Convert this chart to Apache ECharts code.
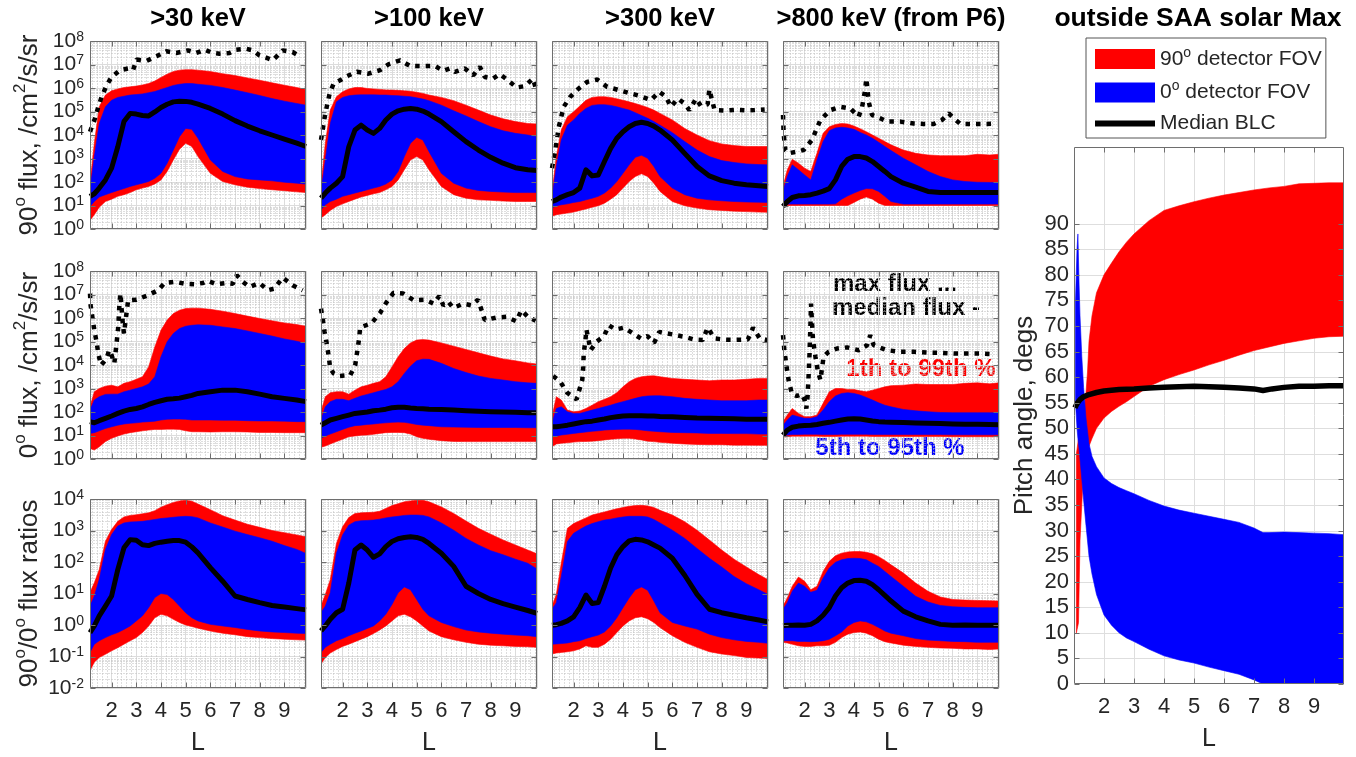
<!DOCTYPE html>
<html><head><meta charset="utf-8">
<script src="https://cdn.jsdelivr.net/npm/echarts@6/dist/echarts.min.js"></script>
<style>html,body{margin:0;padding:0;background:#fff}#c{width:1356px;height:757px}</style>
</head><body><div id="c"></div>
<script>
// ---------- DATA (flux / ratio values are given as log10 of the value) ----------
const L_GRID = [1.125, 1.3, 1.5, 1.75, 2, 2.25, 2.5, 2.75, 3, 3.25, 3.5, 3.75, 4, 4.25, 4.5, 4.75, 5, 5.25, 5.5, 6, 6.5, 7, 7.5, 8, 8.5, 9, 9.5, 9.875];

// Row 1: 90 deg flux
const r1c1_p99 = [1.95, 3.65, 5.2, 5.7, 5.88, 5.96, 6.02, 6.05, 6.08, 6.13, 6.19, 6.3, 6.45, 6.59, 6.70, 6.76, 6.78, 6.78, 6.76, 6.70, 6.61, 6.53, 6.43, 6.33, 6.22, 6.12, 6.02, 5.94];
const r1c1_p95 = [1.67, 3.08, 4.49, 5.2, 5.48, 5.6, 5.65, 5.7, 5.72, 5.75, 5.8, 5.85, 5.94, 6.02, 6.11, 6.16, 6.19, 6.19, 6.16, 6.11, 6.02, 5.91, 5.8, 5.68, 5.55, 5.44, 5.34, 5.27];
const r1c1_med = [1.39, 1.5, 1.74, 2.09, 2.59, 3.5, 4.57, 4.92, 4.89, 4.83, 4.81, 4.98, 5.17, 5.31, 5.41, 5.44, 5.43, 5.39, 5.31, 5.13, 4.89, 4.61, 4.38, 4.18, 4.0, 3.82, 3.65, 3.51];
const r1c1_p5 = [0.96, 1.17, 1.36, 1.46, 1.55, 1.64, 1.72, 1.81, 1.88, 1.95, 2.02, 2.16, 2.37, 2.8, 3.36, 3.93, 4.28, 4.24, 3.86, 2.94, 2.45, 2.23, 2.13, 2.09, 2.05, 1.99, 1.95, 1.91];
const r1c1_p1 = [0.37, 0.61, 0.93, 1.17, 1.27, 1.39, 1.46, 1.55, 1.67, 1.74, 1.81, 1.92, 2.09, 2.45, 2.94, 3.39, 3.65, 3.51, 3.08, 2.37, 2.02, 1.88, 1.78, 1.72, 1.67, 1.63, 1.58, 1.55];
const r1c1_maxL = [1.125, 1.33, 1.46, 1.6, 1.8, 2.0, 2.34, 2.67, 2.87, 3.01, 3.41, 3.82, 4.22, 4.62, 5.09, 5.43, 5.77, 6.1, 6.37, 6.78, 7.05, 7.45, 7.72, 7.99, 8.26, 8.53, 8.93, 9.33, 9.67];
const r1c1_maxV = [4.14, 4.71, 5.2, 5.63, 6.12, 6.47, 6.76, 6.83, 6.76, 7.21, 7.15, 7.35, 7.56, 7.49, 7.6, 7.49, 7.63, 7.49, 7.46, 7.49, 7.63, 7.67, 7.6, 7.39, 7.29, 7.18, 7.6, 7.53, 7.32];

const r1c2_p99 = [1.85, 3.65, 5.06, 5.63, 5.84, 5.96, 6.02, 6.02, 5.98, 5.96, 5.94, 5.92, 5.91, 5.9, 5.88, 5.86, 5.82, 5.77, 5.7, 5.6, 5.46, 5.27, 5.06, 4.85, 4.69, 4.57, 4.49, 4.47];
const r1c2_p95 = [1.6, 2.94, 4.49, 5.41, 5.6, 5.67, 5.7, 5.71, 5.71, 5.71, 5.7, 5.7, 5.68, 5.67, 5.65, 5.63, 5.58, 5.53, 5.46, 5.27, 5.03, 4.81, 4.57, 4.35, 4.18, 4.07, 4.0, 3.93];
const r1c2_med = [1.31, 1.53, 1.74, 1.95, 2.23, 3.5, 4.21, 4.42, 4.21, 4.07, 4.28, 4.64, 4.89, 5.03, 5.1, 5.13, 5.1, 5.02, 4.89, 4.57, 4.14, 3.72, 3.36, 3.05, 2.8, 2.61, 2.52, 2.49];
const r1c2_p5 = [0.82, 1.03, 1.17, 1.27, 1.39, 1.46, 1.53, 1.6, 1.67, 1.74, 1.81, 1.91, 2.09, 2.45, 3.08, 3.65, 3.9, 3.79, 3.29, 2.37, 1.95, 1.74, 1.64, 1.6, 1.57, 1.55, 1.55, 1.55];
const r1c2_p1 = [0.47, 0.61, 0.79, 0.96, 1.07, 1.17, 1.27, 1.36, 1.43, 1.5, 1.55, 1.67, 1.81, 2.09, 2.52, 2.94, 3.08, 2.94, 2.52, 1.81, 1.46, 1.31, 1.24, 1.22, 1.19, 1.17, 1.17, 1.17];
const r1c2_maxL = [1.125, 1.3, 1.475, 1.64, 1.9, 2.17, 2.58, 3.05, 3.52, 3.86, 4.33, 4.73, 5.27, 5.74, 6.08, 6.35, 6.55, 6.95, 7.29, 7.56, 7.76, 8.1, 8.37, 8.7, 9.04, 9.38, 9.71, 9.85];
const r1c2_maxV = [3.79, 4.92, 5.77, 6.19, 6.33, 6.5, 6.69, 6.61, 6.76, 7.01, 7.18, 6.94, 6.94, 6.94, 6.73, 6.83, 6.69, 6.83, 6.54, 6.9, 6.47, 6.4, 6.59, 6.33, 6.02, 6.08, 6.4, 5.91];

const r1c3_p99 = [1.53, 3.08, 4.21, 4.78, 4.99, 5.23, 5.48, 5.6, 5.63, 5.63, 5.6, 5.54, 5.48, 5.41, 5.34, 5.26, 5.17, 5.06, 4.92, 4.64, 4.28, 4.0, 3.76, 3.62, 3.55, 3.51, 3.51, 3.51];
const r1c3_p95 = [1.31, 2.66, 3.79, 4.42, 4.64, 4.92, 5.13, 5.26, 5.29, 5.29, 5.26, 5.2, 5.13, 5.06, 4.95, 4.83, 4.71, 4.57, 4.42, 4.1, 3.72, 3.36, 3.08, 2.91, 2.83, 2.77, 2.74, 2.73];
const r1c3_med = [1.17, 1.24, 1.36, 1.46, 1.55, 1.74, 2.52, 2.26, 2.3, 2.87, 3.43, 3.86, 4.14, 4.35, 4.49, 4.54, 4.49, 4.38, 4.21, 3.79, 3.22, 2.66, 2.26, 2.06, 1.95, 1.88, 1.84, 1.81];
const r1c3_p5 = [0.89, 0.99, 1.03, 1.07, 1.13, 1.17, 1.24, 1.31, 1.39, 1.53, 1.74, 2.02, 2.37, 2.73, 3.05, 3.14, 3.01, 2.66, 2.23, 1.74, 1.46, 1.31, 1.24, 1.2, 1.17, 1.15, 1.14, 1.13];
const r1c3_p1 = [0.54, 0.61, 0.64, 0.68, 0.72, 0.79, 0.85, 0.93, 0.99, 1.1, 1.27, 1.46, 1.74, 2.02, 2.23, 2.35, 2.23, 1.95, 1.6, 1.17, 0.99, 0.89, 0.82, 0.79, 0.76, 0.74, 0.72, 0.71];
const r1c3_maxL = [1.125, 1.26, 1.4, 1.6, 1.87, 2.21, 2.55, 2.96, 3.36, 3.84, 4.31, 4.72, 5.13, 5.47, 5.74, 5.94, 6.22, 6.49, 6.69, 6.96, 7.16, 7.43, 7.5, 7.71, 8.11, 8.52, 8.93, 9.33, 9.74];
const r1c3_maxV = [2.59, 3.36, 4.35, 5.2, 5.63, 5.98, 6.26, 6.36, 6.05, 5.91, 5.77, 5.65, 5.48, 5.84, 5.63, 5.2, 5.55, 5.34, 5.06, 5.55, 5.23, 5.31, 5.94, 5.06, 5.04, 5.07, 5.05, 5.06, 5.09];

const r1c4_p99 = [1.81, 2.52, 2.97, 2.8, 2.59, 2.45, 3.22, 4.07, 4.35, 4.45, 4.49, 4.47, 4.38, 4.27, 4.14, 4.0, 3.86, 3.72, 3.58, 3.36, 3.22, 3.15, 3.12, 3.12, 3.12, 3.18, 3.15, 3.18];
const r1c4_p95 = [1.6, 2.23, 2.73, 2.52, 2.3, 2.09, 2.94, 3.72, 4.18, 4.3, 4.33, 4.3, 4.24, 4.11, 4.0, 3.86, 3.69, 3.51, 3.34, 3.01, 2.73, 2.45, 2.23, 2.09, 2.02, 1.99, 1.98, 1.98];
const r1c4_med = [0.96, 1.17, 1.34, 1.41, 1.43, 1.46, 1.53, 1.61, 1.72, 2.09, 2.66, 2.97, 3.08, 3.08, 3.02, 2.87, 2.66, 2.45, 2.23, 1.95, 1.78, 1.6, 1.55, 1.55, 1.55, 1.55, 1.55, 1.55];
const r1c4_p5 = [1.06, 1.06, 1.06, 1.06, 1.06, 1.06, 1.06, 1.06, 1.06, 1.07, 1.27, 1.41, 1.53, 1.64, 1.72, 1.71, 1.6, 1.39, 1.17, 1.06, 1.06, 1.06, 1.06, 1.06, 1.06, 1.06, 1.06, 1.06];
const r1c4_p1 = [1.0, 1.0, 1.0, 1.0, 1.0, 1.0, 1.0, 1.0, 1.0, 1.0, 1.0, 1.0, 1.13, 1.27, 1.36, 1.27, 1.1, 1.0, 1.0, 1.0, 1.0, 1.0, 1.0, 1.0, 1.0, 1.0, 1.0, 1.0];
const r1c4_maxL = [1.125, 1.15, 1.22, 1.35, 1.69, 1.96, 2.3, 2.64, 3.04, 3.45, 3.85, 4.19, 4.33, 4.45, 4.5, 4.55, 4.6, 4.73, 5.07, 5.34, 5.88, 6.42, 6.82, 7.23, 7.57, 7.84, 8.04, 8.31, 8.71, 9.38, 9.79];
const r1c4_maxV = [4.85, 4.07, 3.36, 3.22, 3.29, 3.36, 3.79, 4.64, 5.06, 5.2, 5.13, 4.78, 5.2, 5.9, 6.4, 5.9, 5.4, 4.85, 4.71, 4.57, 4.57, 4.49, 4.47, 4.47, 4.64, 4.92, 4.71, 4.47, 4.47, 4.47, 4.49];

// Row 2: 0 deg flux
const r2c1_p99 = [2.22, 2.86, 3.0, 3.1, 3.14, 3.07, 3.22, 3.29, 3.39, 3.5, 3.92, 4.77, 5.48, 5.91, 6.19, 6.33, 6.4, 6.42, 6.42, 6.37, 6.29, 6.19, 6.08, 5.98, 5.88, 5.79, 5.72, 5.65];
const r2c1_p95 = [2.08, 2.51, 2.65, 2.75, 2.76, 2.76, 2.86, 2.93, 3.0, 3.07, 3.19, 3.5, 4.35, 4.99, 5.34, 5.55, 5.65, 5.69, 5.71, 5.69, 5.62, 5.55, 5.45, 5.34, 5.23, 5.11, 5.01, 4.92];
const r2c1_med = [1.59, 1.54, 1.63, 1.73, 1.83, 1.94, 2.04, 2.11, 2.15, 2.22, 2.32, 2.41, 2.48, 2.54, 2.56, 2.59, 2.65, 2.71, 2.79, 2.86, 2.93, 2.93, 2.86, 2.76, 2.65, 2.58, 2.51, 2.44];
const r2c1_p5 = [1.09, 1.12, 1.2, 1.3, 1.37, 1.44, 1.49, 1.52, 1.54, 1.57, 1.59, 1.61, 1.66, 1.69, 1.7, 1.7, 1.69, 1.66, 1.66, 1.66, 1.65, 1.65, 1.63, 1.62, 1.62, 1.61, 1.59, 1.59];
const r2c1_p1 = [0.45, 0.38, 0.52, 0.74, 0.88, 0.98, 1.06, 1.12, 1.16, 1.2, 1.23, 1.26, 1.26, 1.27, 1.27, 1.26, 1.2, 1.16, 1.16, 1.15, 1.16, 1.16, 1.15, 1.13, 1.13, 1.12, 1.12, 1.12];
const r2c1_maxL = [1.125, 1.15, 1.23, 1.3, 1.39, 1.46, 1.57, 1.69, 1.8, 1.9, 2.0, 2.11, 2.2, 2.27, 2.31, 2.36, 2.44, 2.5, 2.67, 3.01, 3.48, 3.88, 4.15, 4.56, 4.96, 5.36, 5.7, 5.9, 6.24, 6.64, 6.91, 7.07, 7.32, 7.59, 7.99, 8.33, 8.59, 8.93, 9.33, 9.74];
const r2c1_maxV = [7.04, 6.54, 5.98, 5.48, 4.99, 4.49, 3.99, 4.14, 4.28, 4.63, 4.42, 4.07, 4.92, 5.62, 6.47, 7.04, 5.91, 5.34, 6.76, 6.78, 6.97, 7.18, 7.49, 7.54, 7.46, 7.44, 7.49, 7.58, 7.44, 7.49, 7.46, 7.82, 7.54, 7.32, 7.49, 7.18, 7.25, 7.72, 7.39, 7.18];

const r2c2_p99 = [2.01, 2.65, 2.82, 2.86, 2.86, 2.76, 2.93, 3.07, 3.14, 3.22, 3.29, 3.5, 3.92, 4.35, 4.7, 4.94, 5.06, 5.08, 5.06, 4.94, 4.8, 4.66, 4.52, 4.38, 4.26, 4.18, 4.09, 4.04];
const r2c2_p95 = [1.66, 2.22, 2.44, 2.54, 2.54, 2.48, 2.58, 2.68, 2.75, 2.82, 2.89, 2.96, 3.07, 3.29, 3.64, 3.95, 4.18, 4.25, 4.24, 4.07, 3.85, 3.68, 3.53, 3.43, 3.36, 3.29, 3.24, 3.22];
const r2c2_med = [1.44, 1.54, 1.66, 1.73, 1.8, 1.87, 1.94, 1.97, 2.0, 2.05, 2.08, 2.12, 2.18, 2.2, 2.2, 2.17, 2.15, 2.14, 2.12, 2.11, 2.08, 2.05, 2.03, 2.01, 2.0, 1.99, 1.97, 1.97];
const r2c2_p5 = [0.88, 0.98, 1.06, 1.16, 1.26, 1.35, 1.42, 1.44, 1.47, 1.49, 1.52, 1.54, 1.56, 1.57, 1.56, 1.52, 1.47, 1.44, 1.42, 1.37, 1.36, 1.35, 1.34, 1.34, 1.34, 1.34, 1.33, 1.33];
const r2c2_p1 = [0.5, 0.55, 0.64, 0.74, 0.84, 0.95, 0.98, 1.01, 1.02, 1.05, 1.09, 1.12, 1.13, 1.13, 1.12, 1.06, 0.95, 0.88, 0.84, 0.78, 0.75, 0.74, 0.74, 0.74, 0.74, 0.74, 0.74, 0.74];
const r2c2_maxL = [1.125, 1.2, 1.27, 1.37, 1.44, 1.5, 1.64, 1.88, 2.31, 2.51, 2.6, 2.67, 2.71, 2.85, 3.18, 3.52, 3.76, 4.06, 4.46, 4.87, 5.34, 5.68, 5.92, 6.08, 6.28, 6.48, 6.89, 7.22, 7.49, 7.63, 7.76, 8.23, 8.63, 9.04, 9.24, 9.51, 9.82];
const r2c2_maxV = [6.4, 5.91, 5.41, 4.84, 4.35, 3.85, 3.64, 3.53, 3.57, 3.99, 4.63, 5.13, 5.59, 5.65, 5.79, 6.22, 6.64, 7.07, 7.04, 6.76, 6.78, 6.61, 6.93, 6.54, 6.69, 6.43, 6.61, 6.54, 6.78, 6.33, 5.91, 6.02, 6.05, 5.86, 6.33, 6.05, 5.88];

const r2c3_p99 = [1.8, 2.65, 2.51, 2.08, 2.01, 2.04, 2.15, 2.29, 2.44, 2.54, 2.65, 2.82, 3.07, 3.29, 3.43, 3.5, 3.53, 3.54, 3.5, 3.43, 3.39, 3.36, 3.33, 3.36, 3.36, 3.39, 3.43, 3.43];
const r2c3_p95 = [1.52, 2.15, 2.22, 2.01, 1.94, 1.94, 2.01, 2.08, 2.15, 2.22, 2.29, 2.37, 2.44, 2.51, 2.58, 2.65, 2.68, 2.69, 2.69, 2.65, 2.58, 2.54, 2.51, 2.48, 2.48, 2.48, 2.51, 2.51];
const r2c3_med = [1.37, 1.37, 1.4, 1.44, 1.49, 1.54, 1.59, 1.61, 1.66, 1.7, 1.76, 1.8, 1.83, 1.84, 1.84, 1.84, 1.83, 1.83, 1.81, 1.8, 1.77, 1.74, 1.73, 1.72, 1.71, 1.69, 1.69, 1.69];
const r2c3_p5 = [0.95, 0.98, 1.02, 1.05, 1.09, 1.12, 1.15, 1.18, 1.2, 1.23, 1.25, 1.26, 1.27, 1.27, 1.26, 1.23, 1.2, 1.18, 1.16, 1.13, 1.12, 1.11, 1.09, 1.09, 1.08, 1.08, 1.06, 1.06];
const r2c3_p1 = [0.52, 0.64, 0.67, 0.69, 0.72, 0.74, 0.75, 0.76, 0.78, 0.81, 0.84, 0.86, 0.88, 0.88, 0.85, 0.81, 0.76, 0.74, 0.71, 0.67, 0.64, 0.62, 0.61, 0.61, 0.59, 0.59, 0.58, 0.58];
const r2c3_maxL = [1.17, 1.46, 1.74, 2.12, 2.21, 2.35, 2.39, 2.41, 2.48, 2.52, 2.69, 2.93, 3.23, 3.43, 3.7, 4.04, 4.31, 4.72, 4.99, 5.26, 5.47, 5.81, 6.15, 6.49, 6.89, 7.23, 7.43, 7.71, 8.11, 8.59, 9.06, 9.27, 9.54, 9.85];
const r2c3_maxV = [3.53, 3.29, 2.82, 2.54, 2.86, 3.36, 3.92, 4.49, 5.06, 5.51, 4.63, 4.99, 5.23, 5.69, 5.51, 5.59, 5.41, 5.13, 5.23, 4.94, 5.41, 5.34, 5.27, 5.2, 5.08, 5.06, 5.59, 5.13, 5.08, 5.07, 5.09, 5.59, 5.13, 5.06];

const r2c4_p99 = [1.59, 1.87, 2.15, 1.94, 1.8, 1.8, 1.87, 2.37, 2.86, 3.0, 3.0, 2.96, 2.96, 2.9, 2.86, 2.93, 3.0, 3.07, 3.12, 3.14, 3.19, 3.17, 3.17, 3.17, 3.22, 3.24, 3.2, 3.24];
const r2c4_p95 = [1.44, 1.66, 1.87, 1.8, 1.73, 1.73, 1.8, 2.08, 2.44, 2.68, 2.79, 2.82, 2.79, 2.72, 2.62, 2.51, 2.39, 2.29, 2.22, 2.11, 2.05, 2.01, 1.98, 1.97, 1.97, 1.97, 1.97, 1.97];
const r2c4_med = [1.02, 1.23, 1.35, 1.4, 1.43, 1.44, 1.47, 1.52, 1.56, 1.61, 1.66, 1.7, 1.71, 1.7, 1.66, 1.62, 1.59, 1.57, 1.56, 1.55, 1.53, 1.52, 1.51, 1.49, 1.48, 1.48, 1.47, 1.46];
const r2c4_p5 = [1.0, 1.02, 1.04, 1.04, 1.05, 1.05, 1.05, 1.04, 1.04, 1.04, 1.05, 1.05, 1.05, 1.05, 1.05, 1.04, 1.04, 1.04, 1.04, 1.04, 1.04, 1.04, 1.04, 1.03, 1.03, 1.03, 1.03, 1.03];
const r2c4_p1 = [0.94, 0.95, 0.97, 0.97, 0.97, 0.97, 0.97, 0.96, 0.96, 0.96, 0.97, 0.97, 0.97, 0.97, 0.97, 0.96, 0.96, 0.96, 0.96, 0.96, 0.96, 0.96, 0.96, 0.95, 0.95, 0.95, 0.95, 0.95];
const r2c4_maxL = [1.125, 1.18, 1.26, 1.35, 1.49, 1.69, 1.89, 2.0, 2.07, 2.12, 2.16, 2.2, 2.23, 2.26, 2.34, 2.44, 2.53, 2.64, 2.77, 2.97, 3.31, 3.72, 4.19, 4.53, 4.66, 4.8, 5.34, 5.88, 6.42, 6.96, 7.5, 8.04, 8.58, 9.12, 9.73];
const r2c4_maxV = [5.27, 4.63, 3.99, 3.36, 2.76, 2.68, 2.76, 2.51, 2.15, 2.65, 3.5, 4.49, 5.48, 6.61, 5.06, 4.35, 3.78, 3.36, 4.35, 4.56, 4.7, 4.75, 4.63, 4.84, 5.27, 4.84, 4.63, 4.56, 4.56, 4.53, 4.52, 4.49, 4.49, 4.49, 4.46];

// Row 3: 90/0 flux ratios
const r3c1_p99 = [1.03, 1.34, 1.76, 2.66, 3.03, 3.29, 3.43, 3.48, 3.5, 3.53, 3.56, 3.63, 3.74, 3.82, 3.89, 3.94, 3.96, 3.93, 3.84, 3.66, 3.47, 3.33, 3.2, 3.1, 3.0, 2.93, 2.86, 2.8];
const r3c1_p95 = [0.6, 0.92, 1.45, 2.4, 2.87, 3.14, 3.24, 3.27, 3.28, 3.29, 3.32, 3.35, 3.38, 3.4, 3.42, 3.44, 3.45, 3.44, 3.4, 3.24, 3.11, 2.98, 2.87, 2.77, 2.66, 2.52, 2.4, 2.27];
const r3c1_med = [-0.24, -0.03, 0.29, 0.6, 0.92, 1.76, 2.45, 2.71, 2.69, 2.55, 2.52, 2.59, 2.63, 2.66, 2.68, 2.68, 2.63, 2.48, 2.29, 1.82, 1.39, 0.92, 0.81, 0.71, 0.62, 0.57, 0.52, 0.48];
const r3c1_p5 = [-0.87, -0.61, -0.5, -0.4, -0.31, -0.24, -0.14, -0.03, 0.13, 0.29, 0.55, 0.87, 1.0, 0.97, 0.81, 0.6, 0.39, 0.23, 0.13, 0.02, -0.03, -0.08, -0.14, -0.19, -0.22, -0.24, -0.26, -0.27];
const r3c1_p1 = [-1.45, -1.18, -1.03, -0.93, -0.82, -0.72, -0.61, -0.5, -0.4, -0.24, -0.03, 0.23, 0.34, 0.29, 0.18, 0.08, 0.0, -0.05, -0.1, -0.19, -0.26, -0.31, -0.37, -0.4, -0.43, -0.45, -0.47, -0.48];

const r3c2_p99 = [0.6, 0.97, 1.44, 2.59, 3.12, 3.41, 3.54, 3.56, 3.57, 3.58, 3.61, 3.7, 3.79, 3.85, 3.91, 3.94, 3.96, 3.96, 3.91, 3.75, 3.54, 3.3, 3.07, 2.88, 2.7, 2.54, 2.38, 2.26];
const r3c2_p95 = [0.39, 0.6, 1.02, 2.28, 2.86, 3.17, 3.28, 3.31, 3.32, 3.33, 3.36, 3.4, 3.43, 3.45, 3.48, 3.49, 3.49, 3.48, 3.43, 3.24, 3.01, 2.75, 2.54, 2.36, 2.23, 2.09, 1.96, 1.78];
const r3c2_med = [-0.19, -0.03, 0.18, 0.39, 0.5, 1.33, 2.38, 2.54, 2.38, 2.15, 2.26, 2.49, 2.65, 2.74, 2.78, 2.8, 2.78, 2.72, 2.59, 2.28, 1.86, 1.23, 1.0, 0.81, 0.68, 0.57, 0.46, 0.37];
const r3c2_p5 = [-0.87, -0.71, -0.61, -0.5, -0.43, -0.34, -0.26, -0.19, -0.11, -0.03, 0.13, 0.34, 0.65, 1.02, 1.21, 1.12, 0.81, 0.5, 0.29, 0.08, -0.05, -0.16, -0.22, -0.26, -0.29, -0.32, -0.34, -0.37];
const r3c2_p1 = [-1.24, -1.03, -0.89, -0.78, -0.68, -0.61, -0.53, -0.45, -0.37, -0.27, -0.16, -0.03, 0.13, 0.29, 0.34, 0.26, 0.13, -0.03, -0.19, -0.37, -0.47, -0.55, -0.61, -0.64, -0.66, -0.68, -0.69, -0.71];

const r3c3_p99 = [0.6, 0.97, 1.96, 3.07, 3.22, 3.31, 3.4, 3.49, 3.54, 3.59, 3.64, 3.69, 3.73, 3.77, 3.79, 3.8, 3.78, 3.73, 3.64, 3.49, 3.28, 3.01, 2.7, 2.38, 2.09, 1.84, 1.6, 1.44];
const r3c3_p95 = [0.5, 0.71, 1.54, 2.65, 2.91, 3.03, 3.14, 3.22, 3.28, 3.33, 3.36, 3.4, 3.43, 3.45, 3.45, 3.45, 3.43, 3.35, 3.24, 3.01, 2.75, 2.43, 2.12, 1.84, 1.54, 1.31, 1.12, 0.97];
const r3c3_med = [-0.01, 0.01, 0.05, 0.13, 0.26, 0.55, 0.95, 0.68, 0.71, 1.23, 1.81, 2.23, 2.49, 2.67, 2.72, 2.7, 2.64, 2.54, 2.44, 2.12, 1.58, 0.97, 0.5, 0.39, 0.31, 0.23, 0.16, 0.1];
const r3c3_p5 = [-0.61, -0.6, -0.59, -0.57, -0.53, -0.5, -0.43, -0.37, -0.32, -0.22, -0.03, 0.23, 0.55, 0.86, 1.12, 1.21, 1.1, 0.76, 0.39, 0.08, -0.03, -0.13, -0.29, -0.4, -0.47, -0.52, -0.55, -0.58];
const r3c3_p1 = [-0.92, -0.89, -0.87, -0.85, -0.82, -0.76, -0.66, -0.71, -0.71, -0.61, -0.45, -0.24, -0.03, 0.13, 0.23, 0.26, 0.2, 0.08, -0.08, -0.34, -0.55, -0.71, -0.85, -0.92, -0.97, -1.03, -1.05, -1.06];

const r3c4_p99 = [0.6, 0.86, 1.23, 1.52, 1.39, 1.12, 1.23, 1.7, 2.02, 2.2, 2.28, 2.32, 2.33, 2.33, 2.31, 2.26, 2.17, 2.05, 1.91, 1.65, 1.33, 1.07, 0.89, 0.81, 0.79, 0.78, 0.77, 0.76];
const r3c4_p95 = [0.5, 0.71, 1.07, 1.33, 1.23, 1.04, 1.1, 1.49, 1.81, 1.99, 2.07, 2.11, 2.12, 2.11, 2.07, 1.96, 1.86, 1.7, 1.54, 1.23, 0.91, 0.73, 0.62, 0.58, 0.56, 0.55, 0.55, 0.55];
const r3c4_med = [-0.02, -0.01, -0.01, 0.0, -0.01, 0.02, 0.13, 0.31, 0.55, 0.92, 1.18, 1.33, 1.41, 1.42, 1.39, 1.28, 1.12, 0.94, 0.76, 0.44, 0.26, 0.13, 0.02, -0.01, 0.0, -0.01, -0.01, -0.01];
const r3c4_p5 = [-0.5, -0.5, -0.5, -0.52, -0.52, -0.53, -0.52, -0.5, -0.45, -0.34, -0.22, -0.03, 0.08, 0.13, 0.1, 0.02, -0.08, -0.19, -0.26, -0.34, -0.43, -0.48, -0.5, -0.52, -0.53, -0.55, -0.55, -0.55];
const r3c4_p1 = [-0.55, -0.57, -0.61, -0.66, -0.68, -0.68, -0.66, -0.66, -0.64, -0.55, -0.4, -0.29, -0.24, -0.22, -0.26, -0.34, -0.45, -0.53, -0.57, -0.64, -0.68, -0.71, -0.73, -0.74, -0.76, -0.76, -0.78, -0.76];

// Right panel: pitch angle (degrees, linear)
const L_RED = [1.08, 1.15, 1.2, 1.3, 1.4, 1.45, 1.5, 1.6, 1.75, 2, 2.25, 2.5, 2.75, 3, 3.5, 4, 4.5, 5, 5.5, 6, 6.5, 7, 7.5, 8, 8.5, 9, 9.5, 10];
const red_lo = [10, 12, 28, 40, 44, 45.5, 46.5, 48, 50, 52, 53.3, 54.3, 55.2, 56.2, 58.2, 59.5, 60.5, 61.4, 62.4, 63.3, 64.3, 65.2, 65.9, 66.6, 67.1, 67.6, 67.9, 68];
const red_hi = [45, 48, 50, 53, 57, 61, 67, 72, 76.5, 80, 82.3, 84.5, 86.4, 88, 90.6, 92.6, 93.5, 94.3, 95, 95.6, 96.1, 96.6, 97, 97.3, 97.8, 97.9, 98, 98];
const L_BLUE = [1.05, 1.1, 1.13, 1.17, 1.2, 1.26, 1.32, 1.4, 1.5, 1.6, 1.75, 2, 2.25, 2.5, 2.75, 3, 3.5, 4, 4.5, 5, 5.5, 6, 6.5, 7, 7.3, 7.5, 8, 8.5, 9, 9.5, 10];
const blue_hi = [75, 85, 88, 78, 72, 64, 58, 52, 47, 44.5, 42.5, 40.3, 39.2, 38.4, 37.8, 37.2, 35.9, 34.8, 34, 33.4, 32.8, 32.2, 31.6, 30.5, 29.6, 29.6, 29.7, 29.6, 29.5, 29.4, 29.2];
const blue_lo = [55, 50, 48, 46, 44, 40, 36, 31, 25, 21.5, 17.5, 13.5, 11.5, 10, 9, 8.3, 6.8, 5.5, 4.7, 4.1, 3.3, 2.6, 1.9, 0.8, 0, 0, 0, 0, 0, 0, 0];
const L_BLC = [1.03, 1.1, 1.2, 1.3, 1.5, 1.75, 2, 2.5, 3, 3.5, 4, 5, 6, 6.5, 7, 7.3, 7.6, 8, 8.5, 9, 9.5, 10];
const blc = [54, 54.8, 55.6, 56.1, 56.6, 57.0, 57.3, 57.6, 57.7, 57.9, 58.0, 58.2, 58.0, 57.9, 57.7, 57.4, 57.7, 58.0, 58.2, 58.2, 58.3, 58.3];

// Text
const TITLES = ['>30 keV', '>100 keV', '>300 keV', '>800 keV (from P6)'];
const RIGHT_TITLE = 'outside SAA solar Max';
const X_TICKS = [2, 3, 4, 5, 6, 7, 8, 9];

// ---------- PANELS ----------
const PANELS = [
  {r:0,c:0,p1:r1c1_p1,p5:r1c1_p5,med:r1c1_med,p95:r1c1_p95,p99:r1c1_p99,mL:r1c1_maxL,mV:r1c1_maxV},
  {r:0,c:1,p1:r1c2_p1,p5:r1c2_p5,med:r1c2_med,p95:r1c2_p95,p99:r1c2_p99,mL:r1c2_maxL,mV:r1c2_maxV},
  {r:0,c:2,p1:r1c3_p1,p5:r1c3_p5,med:r1c3_med,p95:r1c3_p95,p99:r1c3_p99,mL:r1c3_maxL,mV:r1c3_maxV},
  {r:0,c:3,p1:r1c4_p1,p5:r1c4_p5,med:r1c4_med,p95:r1c4_p95,p99:r1c4_p99,mL:r1c4_maxL,mV:r1c4_maxV},
  {r:1,c:0,p1:r2c1_p1,p5:r2c1_p5,med:r2c1_med,p95:r2c1_p95,p99:r2c1_p99,mL:r2c1_maxL,mV:r2c1_maxV},
  {r:1,c:1,p1:r2c2_p1,p5:r2c2_p5,med:r2c2_med,p95:r2c2_p95,p99:r2c2_p99,mL:r2c2_maxL,mV:r2c2_maxV},
  {r:1,c:2,p1:r2c3_p1,p5:r2c3_p5,med:r2c3_med,p95:r2c3_p95,p99:r2c3_p99,mL:r2c3_maxL,mV:r2c3_maxV},
  {r:1,c:3,p1:r2c4_p1,p5:r2c4_p5,med:r2c4_med,p95:r2c4_p95,p99:r2c4_p99,mL:r2c4_maxL,mV:r2c4_maxV},
  {r:2,c:0,p1:r3c1_p1,p5:r3c1_p5,med:r3c1_med,p95:r3c1_p95,p99:r3c1_p99},
  {r:2,c:1,p1:r3c2_p1,p5:r3c2_p5,med:r3c2_med,p95:r3c2_p95,p99:r3c2_p99},
  {r:2,c:2,p1:r3c3_p1,p5:r3c3_p5,med:r3c3_med,p95:r3c3_p95,p99:r3c3_p99},
  {r:2,c:3,p1:r3c4_p1,p5:r3c4_p5,med:r3c4_med,p95:r3c4_p95,p99:r3c4_p99}
];
PANELS.forEach((p,i)=>{['p1','p5','med','p95','p99'].forEach(k=>{ if(p[k].length!==L_GRID.length) throw new Error('len '+i+' '+k+' '+p[k].length); }); if(p.mL && p.mL.length!==p.mV.length) throw new Error('max len '+i);});
[[L_RED,red_lo],[L_RED,red_hi],[L_BLUE,blue_lo],[L_BLUE,blue_hi],[L_BLC,blc]].forEach((a,i)=>{ if(a[0].length!==a[1].length) throw new Error('right len '+i); });

// ---------- STYLE / LAYOUT ----------
const FONT = '"Liberation Sans", Arial, Helvetica, sans-serif';
const TXT = '#262626';
const RED = '#ff0000', BLUE = '#0000ff';
const MAJOR = '#dcdcdc', MINOR = '#bdbdbd', FRAME = '#6e6e6e';
const COL_LEFT = [90, 321, 552, 783], COL_W = 216;
const ROW_TOP = [41, 271, 499], ROW_H = [188, 188, 190];
const X_MIN = 1.125, X_MAX = 9.875;
const ROW_Y = [[1, 1e8], [1, 1e8], [1e-2, 1e4]];
const YNAMES = ['{a|90}{s|o}{a| flux, /cm}{s|2}{a|/s/sr}', '{a|0}{s|o}{a| flux, /cm}{s|2}{a|/s/sr}', '{a|90}{s|o}{a|/0}{s|o}{a| flux ratios}'];
const NAME_RICH = {a:{fontSize:26,fontFamily:FONT,color:TXT,lineHeight:36}, s:{fontSize:17,fontFamily:FONT,color:TXT,lineHeight:17,verticalAlign:'top'}};
const TICK_RICH = {b:{fontSize:21,fontFamily:FONT,color:TXT,lineHeight:22}, s:{fontSize:14,fontFamily:FONT,color:TXT,lineHeight:4,verticalAlign:'top'}};

const pow10 = a => a.map(v => Math.pow(10, v));

function bandSeries(gi, Ls, lo, hi, color, z, name) {
  const data = Ls.map((l,i)=>[l, lo[i], hi[i]]);
  return {
    type:'custom', name, xAxisIndex:gi, yAxisIndex:gi, z, silent:true, clip:true,
    itemStyle:{color}, encode:{x:0, y:[1,2]}, data,
    renderItem(params, api) {
      if (params.dataIndex !== 0) return null;
      const top = [], bot = [];
      for (let i=0;i<data.length;i++){ top.push(api.coord([data[i][0], data[i][2]])); bot.push(api.coord([data[i][0], data[i][1]])); }
      return {type:'polygon', shape:{points: top.concat(bot.reverse())}, style:{fill:color, stroke:color, lineWidth:0.6}};
    }
  };
}

function gridDecor(gi, xr, yr, opts) {
  // minor/major grid lines and the axes box with inward ticks, drawn through the axis scales
  return {
    type:'custom', xAxisIndex:gi, yAxisIndex:gi, z:opts.z, silent:true, clip:false,
    data:[[xr[0], yr[0]]],
    renderItem(params, api) {
      const ch = [];
      const pA = api.coord([xr[0], yr[0]]), pB = api.coord([xr[1], yr[1]]);
      const x0 = Math.round(pA[0])+0.5, x1 = Math.round(pB[0])-0.5, y0 = Math.round(pA[1])-0.5, y1 = Math.round(pB[1])+0.5;
      (opts.vLines||[]).forEach(v => { const x = Math.round(api.coord([v, yr[0]])[0])+0.5;
        ch.push({type:'line', shape:{x1:x,y1:y1,x2:x,y2:y0}, style:{stroke:opts.color, lineWidth:1, lineDash:opts.dash||null}}); });
      (opts.hLines||[]).forEach(v => { const y = Math.round(api.coord([xr[0], v])[1])+0.5;
        ch.push({type:'line', shape:{x1:x0,y1:y,x2:x1,y2:y}, style:{stroke:opts.color, lineWidth:1, lineDash:opts.dash||null}}); });
      if (opts.frame) {
        ch.push({type:'rect', shape:{x:x0, y:y1, width:x1-x0, height:y0-y1}, style:{fill:'none', stroke:FRAME, lineWidth:1}});
        const t = 5;
        (opts.xTicks||[]).forEach(v => { const x = Math.round(api.coord([v, yr[0]])[0])+0.5;
          ch.push({type:'line', shape:{x1:x,y1:y0,x2:x,y2:y0-t}, style:{stroke:FRAME,lineWidth:1}});
          ch.push({type:'line', shape:{x1:x,y1:y1,x2:x,y2:y1+t}, style:{stroke:FRAME,lineWidth:1}}); });
        (opts.yTicks||[]).forEach(v => { const y = Math.round(api.coord([xr[0], v])[1])+0.5;
          ch.push({type:'line', shape:{x1:x0,y1:y,x2:x0+t,y2:y}, style:{stroke:FRAME,lineWidth:1}});
          ch.push({type:'line', shape:{x1:x1,y1:y,x2:x1-t,y2:y}, style:{stroke:FRAME,lineWidth:1}}); });
      }
      return {type:'group', children:ch};
    }
  };
}

const grids = [], xAxes = [], yAxes = [], series = [];
const X_MINOR = [];
for (let k = 6; k < 50; k++) { const v = k/5; if (k % 5 !== 0 && v > X_MIN && v < X_MAX) X_MINOR.push(v); }

PANELS.forEach((p, gi) => {
  const yr = ROW_Y[p.r];
  const e0 = Math.round(Math.log10(yr[0])), e1 = Math.round(Math.log10(yr[1]));
  const yMinor = [], yMajor = [];
  for (let e = e0; e < e1; e++) { for (let m = 2; m <= 9; m++) yMinor.push(m*Math.pow(10,e)); }
  for (let e = e0; e <= e1; e++) yMajor.push(Math.pow(10,e));
  grids.push({left:COL_LEFT[p.c], top:ROW_TOP[p.r], width:COL_W, height:ROW_H[p.r]});
  xAxes.push({gridIndex:gi, type:'value', min:X_MIN, max:X_MAX, splitNumber:8,
    axisLine:{show:false}, axisTick:{show:false},
    splitLine:{show:true, lineStyle:{color:MAJOR, width:1}},
    axisLabel:{show:p.r===2, margin:12, fontSize:22, fontFamily:FONT, color:TXT, showMinLabel:false, showMaxLabel:false,
      formatter:v => (Math.abs(v-Math.round(v))<1e-6 && v>=2 && v<=9) ? String(Math.round(v)) : ''},
    name: p.r===2 ? 'L' : '', nameLocation:'middle', nameGap:43,
    nameTextStyle:{fontSize:25, fontFamily:FONT, color:TXT}});
  yAxes.push({gridIndex:gi, type:'log', logBase:10, min:yr[0], max:yr[1], splitNumber:e1-e0,
    axisLine:{show:false}, axisTick:{show:false},
    splitLine:{show:true, lineStyle:{color:MAJOR, width:1}},
    axisLabel:{show:p.c===0, margin:6, showMinLabel:true, showMaxLabel:true, hideOverlap:false, interval:0,
      formatter:v => '{b|10}{s|' + Math.round(Math.log10(v)) + '}', rich:TICK_RICH},
    name: p.c===0 ? YNAMES[p.r] : '', nameLocation:'middle', nameGap:42,
    nameTextStyle:{rich:NAME_RICH}});
  series.push(gridDecor(gi, [X_MIN, X_MAX], yr, {z:1, vLines:X_MINOR, hLines:yMinor, color:MINOR, dash:[1,2]}));
  series.push(bandSeries(gi, L_GRID, pow10(p.p1), pow10(p.p99), RED, 2, 'r'+gi));
  series.push(bandSeries(gi, L_GRID, pow10(p.p5), pow10(p.p95), BLUE, 3, 'b'+gi));
  series.push({type:'line', xAxisIndex:gi, yAxisIndex:gi, z:4, silent:true, symbol:'none',
    lineStyle:{color:'#000', width:5, cap:'butt', join:'round'},
    data:L_GRID.map((l,i)=>[l, Math.pow(10, p.med[i])])});
  if (p.mL) series.push({type:'line', xAxisIndex:gi, yAxisIndex:gi, z:5, silent:true, symbol:'none',
    lineStyle:{color:'#000', width:4.5, type:[4.5,6], cap:'butt'},
    data:p.mL.map((l,i)=>[l, Math.pow(10, p.mV[i])])});
  series.push(gridDecor(gi, [X_MIN, X_MAX], yr, {z:8, frame:true, xTicks:X_TICKS, yTicks:yMajor}));
});

// Right panel
const RG = PANELS.length;
const PA_TICKS = []; for (let d = 0; d <= 90; d += 5) PA_TICKS.push(d);
grids.push({left:1074, top:147, width:270, height:537});
xAxes.push({gridIndex:RG, type:'value', min:1, max:10, interval:1,
  axisLine:{show:false}, axisTick:{show:false}, splitLine:{show:false},
  axisLabel:{margin:12, fontSize:22, fontFamily:FONT, color:TXT, formatter:v => (v>=2 && v<=9) ? String(v) : ''},
  name:'L', nameLocation:'middle', nameGap:43, nameTextStyle:{fontSize:25, fontFamily:FONT, color:TXT}});
yAxes.push({gridIndex:RG, type:'value', min:0, max:105, interval:5,
  axisLine:{show:false}, axisTick:{show:false}, splitLine:{show:false},
  axisLabel:{margin:5, fontSize:22, fontFamily:FONT, color:TXT, formatter:v => v<=90 ? String(v) : ''},
  name:'Pitch angle, degs', nameLocation:'middle', nameGap:36, nameTextStyle:{fontSize:26, fontFamily:FONT, color:TXT}});
series.push(gridDecor(RG, [1, 10], [0, 105], {z:1, vLines:X_TICKS, hLines:PA_TICKS.slice(1), color:'#dedede'}));
series.push(bandSeries(RG, L_RED, red_lo, red_hi, RED, 2, 'fov90'));
series.push(bandSeries(RG, L_BLUE, blue_lo, blue_hi, BLUE, 3, 'fov0'));
series.push({type:'line', name:'Median BLC', xAxisIndex:RG, yAxisIndex:RG, z:4, silent:true, symbol:'none',
  lineStyle:{color:'#000', width:5.5, cap:'butt', join:'round'}, itemStyle:{color:'#000'},
  data:L_BLC.map((l,i)=>[l, blc[i]])});
series.push(gridDecor(RG, [1, 10], [0, 105], {z:8, frame:true, xTicks:X_TICKS, yTicks:PA_TICKS}));

// Titles and annotations
const graphic = [];
const bold = sz => 'bold ' + sz + 'px ' + FONT;
TITLES.forEach((t, c) => graphic.push({type:'text', x:COL_LEFT[c]+COL_W/2, y:19, silent:true,
  style:{text:t, font:bold(25.5), fill:'#000', align:'center', verticalAlign:'middle'}}));
graphic.push({type:'text', x:1198, y:19, silent:true, style:{text:RIGHT_TITLE, font:bold(26.5), fill:'#000', align:'center', verticalAlign:'middle'}});
graphic.push({type:'text', x:895, y:284, silent:true, style:{text:'max flux ...', font:bold(24), fill:'#000', align:'center', verticalAlign:'middle'}});
graphic.push({type:'text', x:906, y:308, silent:true, style:{text:'median flux -', font:bold(24), fill:'#000', align:'center', verticalAlign:'middle'}});
graphic.push({type:'text', x:921, y:369, silent:true, style:{text:'1th to 99th %', font:bold(24), fill:RED, align:'center', verticalAlign:'middle'}});
graphic.push({type:'text', x:890, y:448, silent:true, style:{text:'5th to 95th %', font:bold(24), fill:BLUE, align:'center', verticalAlign:'middle'}});

const LEG_TEXT = {'fov90':'{a|90}{s|o}{a| detector FOV}', 'fov0':'{a|0}{s|o}{a| detector FOV}', 'Median BLC':'{a|Median BLC}'};
const option = {
  animation:false,
  backgroundColor:'#fff',
  grid:grids, xAxis:xAxes, yAxis:yAxes, series, graphic,
  legend:{
    left:1086, top:38, orient:'vertical', selectedMode:false,
    backgroundColor:'#fff', borderColor:'#555', borderWidth:1, padding:[8, 4, 4, 6],
    itemWidth:60, itemHeight:20, itemGap:10,
    data:[{name:'fov90', icon:'rect'}, {name:'fov0', icon:'rect'},
          {name:'Median BLC', itemStyle:{color:'rgba(0,0,0,0)', opacity:0, borderWidth:0}, lineStyle:{color:'#000', width:6}}],
    formatter:n => LEG_TEXT[n],
    textStyle:{rich:{a:{fontSize:21,fontFamily:FONT,color:TXT,lineHeight:26}, s:{fontSize:14,fontFamily:FONT,color:TXT,lineHeight:14,verticalAlign:'top'}}}
  }
};
const chart = echarts.init(document.getElementById('c'));
chart.setOption(option);
</script></body></html>
